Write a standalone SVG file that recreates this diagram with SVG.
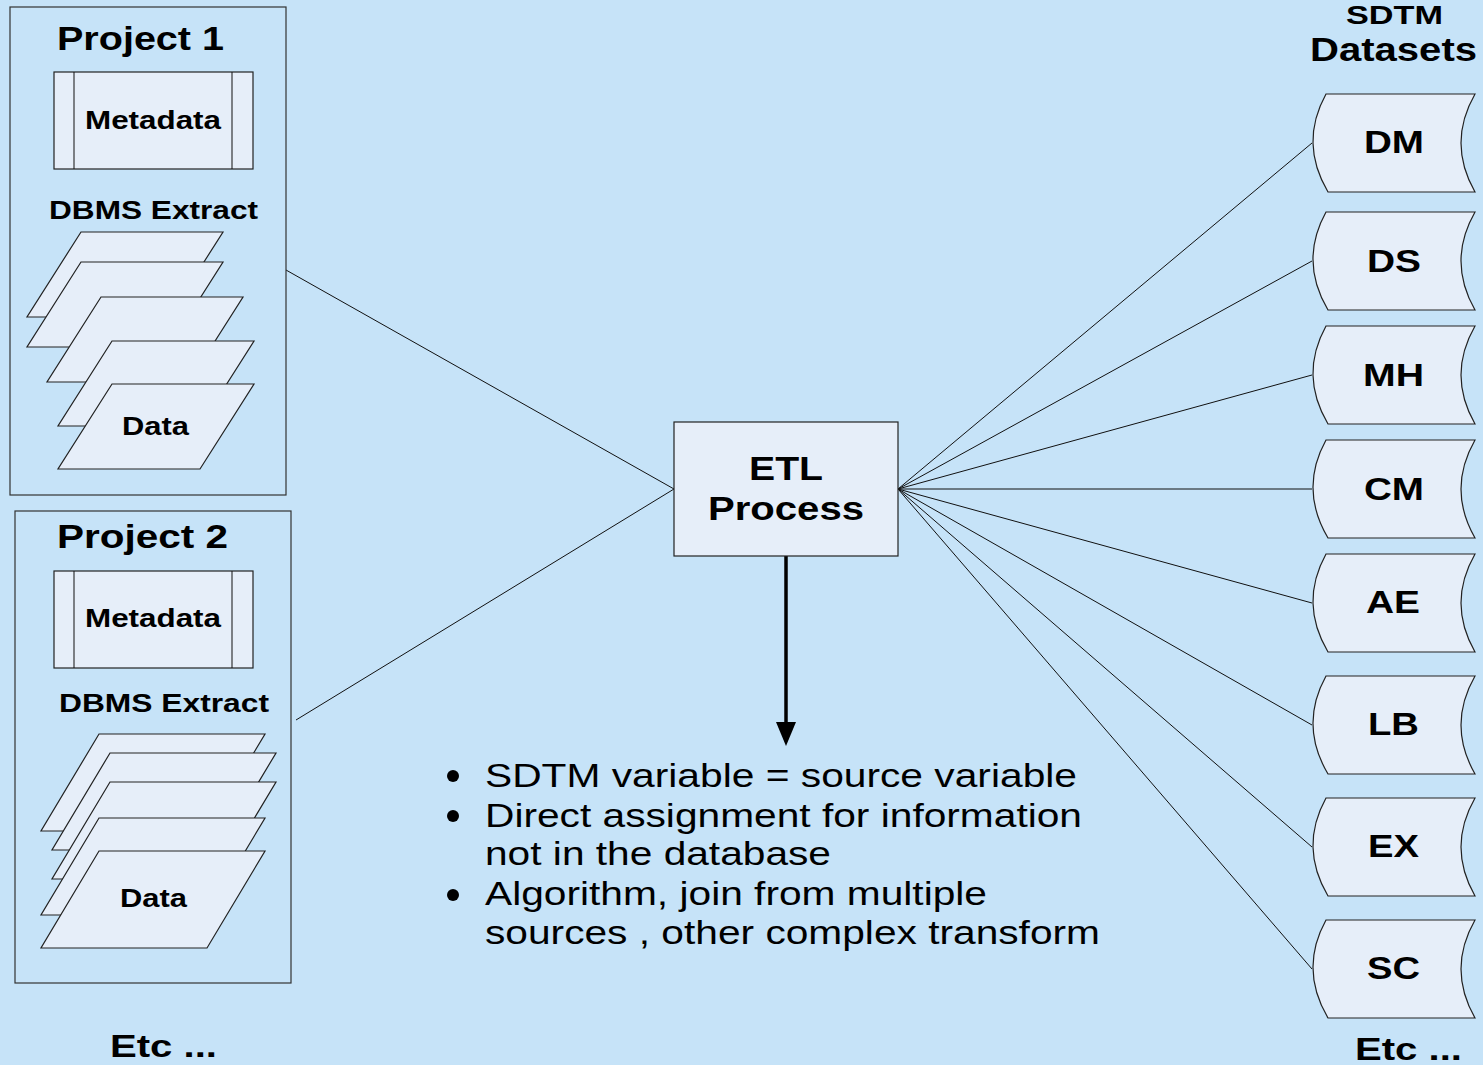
<svg xmlns="http://www.w3.org/2000/svg" width="1483" height="1065" viewBox="0 0 1483 1065">
<style>
.bg{fill:#c6e3f8}
.frame{fill:none;stroke:#333;stroke-width:1.2}
.shape{fill:#e6eef9;stroke:#222;stroke-width:1.2}
.conn{stroke:#111;stroke-width:1;fill:none}
.b{font-family:"Liberation Sans",Arial,sans-serif;font-weight:bold;fill:#000}
.r{font-family:"Liberation Sans",Arial,sans-serif;fill:#000}
</style>
<defs>
<path id="ds" d="M14,0 L163,0 Q135,49 163,98 L16,98 Q-13,49 14,0 Z"/>
<path id="pg1" d="M54,0 L196,0 L142,85 L0,85 Z"/>
<path id="pg2" d="M58,0 L224,0 L166,97 L0,97 Z"/>
</defs>
<rect class="bg" x="0" y="0" width="1483" height="1065"/>

<g id="connectors">
<line class="conn" x1="286" y1="270" x2="674" y2="489"/>
<line class="conn" x1="296" y1="720" x2="674" y2="489"/>
<line class="conn" x1="898" y1="489" x2="1312" y2="143"/>
<line class="conn" x1="898" y1="489" x2="1312" y2="261"/>
<line class="conn" x1="898" y1="489" x2="1312" y2="375"/>
<line class="conn" x1="898" y1="489" x2="1312" y2="489"/>
<line class="conn" x1="898" y1="489" x2="1312" y2="603"/>
<line class="conn" x1="898" y1="489" x2="1312" y2="725"/>
<line class="conn" x1="898" y1="489" x2="1312" y2="847"/>
<line class="conn" x1="898" y1="489" x2="1312" y2="969"/>
<line x1="786" y1="556" x2="786" y2="722" stroke="#000" stroke-width="3.5"/>
<path d="M776,722 L796,722 L786,746 Z" fill="#000"/>
</g>

<g id="project1">
<rect class="frame" x="10" y="7" width="276" height="488"/>
<text class="b" x="57" y="50" font-size="34" textLength="167" lengthAdjust="spacingAndGlyphs">Project 1</text>
<rect class="shape" x="54" y="72" width="199" height="97"/>
<line class="conn" x1="74" y1="72" x2="74" y2="169"/>
<line class="conn" x1="232" y1="72" x2="232" y2="169"/>
<text class="b" x="85" y="129" font-size="26" textLength="136" lengthAdjust="spacingAndGlyphs">Metadata</text>
<text class="b" x="49" y="219" font-size="26" textLength="209" lengthAdjust="spacingAndGlyphs">DBMS Extract</text>
<use href="#pg1" class="shape" x="27" y="232"/>
<use href="#pg1" class="shape" x="27" y="262"/>
<use href="#pg1" class="shape" x="47" y="297"/>
<use href="#pg1" class="shape" x="58" y="341"/>
<use href="#pg1" class="shape" x="58" y="384"/>
<text class="b" x="122" y="435" font-size="26" textLength="67" lengthAdjust="spacingAndGlyphs">Data</text>
</g>

<g id="project2">
<rect class="frame" x="15" y="511" width="276" height="472"/>
<text class="b" x="57" y="548" font-size="34" textLength="171" lengthAdjust="spacingAndGlyphs">Project 2</text>
<rect class="shape" x="54" y="571" width="199" height="97"/>
<line class="conn" x1="74" y1="571" x2="74" y2="668"/>
<line class="conn" x1="232" y1="571" x2="232" y2="668"/>
<text class="b" x="85" y="627" font-size="26" textLength="136" lengthAdjust="spacingAndGlyphs">Metadata</text>
<text class="b" x="59" y="712" font-size="26" textLength="210" lengthAdjust="spacingAndGlyphs">DBMS Extract</text>
<use href="#pg2" class="shape" x="41" y="734"/>
<use href="#pg2" class="shape" x="52" y="753"/>
<use href="#pg2" class="shape" x="52" y="782"/>
<use href="#pg2" class="shape" x="41" y="818"/>
<use href="#pg2" class="shape" x="41" y="851"/>
<text class="b" x="120" y="907" font-size="26" textLength="67" lengthAdjust="spacingAndGlyphs">Data</text>
</g>

<g id="etc-left">
<text class="b" x="110" y="1057" font-size="32" textLength="107" lengthAdjust="spacingAndGlyphs">Etc ...</text>
</g>

<g id="etl">
<rect class="shape" x="674" y="422" width="224" height="134"/>
<text class="b" x="749" y="480" font-size="34" textLength="74" lengthAdjust="spacingAndGlyphs">ETL</text>
<text class="b" x="708" y="520" font-size="34" textLength="156" lengthAdjust="spacingAndGlyphs">Process</text>
</g>

<g id="notes">
<circle cx="453" cy="776" r="6" fill="#000"/>
<circle cx="453" cy="816" r="6" fill="#000"/>
<circle cx="453" cy="895" r="6" fill="#000"/>
<text class="r" x="485" y="787" font-size="33" textLength="592" lengthAdjust="spacingAndGlyphs">SDTM variable = source variable</text>
<text class="r" x="485" y="827" font-size="33" textLength="597" lengthAdjust="spacingAndGlyphs">Direct assignment for information</text>
<text class="r" x="485" y="865" font-size="33" textLength="346" lengthAdjust="spacingAndGlyphs">not in the database</text>
<text class="r" x="485" y="905" font-size="33" textLength="502" lengthAdjust="spacingAndGlyphs">Algorithm, join from multiple</text>
<text class="r" x="485" y="944" font-size="33" textLength="615" lengthAdjust="spacingAndGlyphs">sources , other complex transform</text>
</g>

<g id="sdtm-title">
<text class="b" x="1346" y="24" font-size="26" textLength="97" lengthAdjust="spacingAndGlyphs">SDTM</text>
<text class="b" x="1310" y="61" font-size="34" textLength="167" lengthAdjust="spacingAndGlyphs">Datasets</text>
</g>

<g id="ds-DM"><use href="#ds" class="shape" x="1312" y="94"/><text class="b" x="1364" y="153" font-size="32" textLength="60" lengthAdjust="spacingAndGlyphs">DM</text></g>
<g id="ds-DS"><use href="#ds" class="shape" x="1312" y="212"/><text class="b" x="1367" y="272" font-size="32" textLength="54" lengthAdjust="spacingAndGlyphs">DS</text></g>
<g id="ds-MH"><use href="#ds" class="shape" x="1312" y="326"/><text class="b" x="1363" y="386" font-size="32" textLength="61" lengthAdjust="spacingAndGlyphs">MH</text></g>
<g id="ds-CM"><use href="#ds" class="shape" x="1312" y="440"/><text class="b" x="1364" y="500" font-size="32" textLength="60" lengthAdjust="spacingAndGlyphs">CM</text></g>
<g id="ds-AE"><use href="#ds" class="shape" x="1312" y="554"/><text class="b" x="1366" y="613" font-size="32" textLength="54" lengthAdjust="spacingAndGlyphs">AE</text></g>
<g id="ds-LB"><use href="#ds" class="shape" x="1312" y="676"/><text class="b" x="1368" y="735" font-size="32" textLength="51" lengthAdjust="spacingAndGlyphs">LB</text></g>
<g id="ds-EX"><use href="#ds" class="shape" x="1312" y="798"/><text class="b" x="1368" y="857" font-size="32" textLength="51" lengthAdjust="spacingAndGlyphs">EX</text></g>
<g id="ds-SC"><use href="#ds" class="shape" x="1312" y="920"/><text class="b" x="1367" y="979" font-size="32" textLength="53" lengthAdjust="spacingAndGlyphs">SC</text></g>

<g id="etc-right">
<text class="b" x="1355" y="1060" font-size="32" textLength="107" lengthAdjust="spacingAndGlyphs">Etc ...</text>
</g>
</svg>
